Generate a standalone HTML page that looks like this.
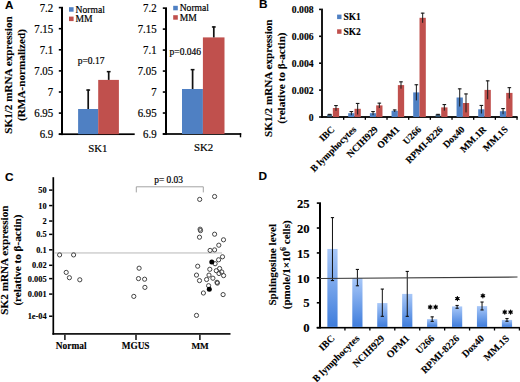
<!DOCTYPE html>
<html><head><meta charset="utf-8"><style>
html,body{margin:0;padding:0;background:#fff;width:520px;height:382px;overflow:hidden;}
svg{display:block;}
</style></head><body>
<svg width="520" height="382" viewBox="0 0 520 382">
<rect width="520" height="382" fill="#fff"/>
<text x="5.10" y="8.50" font-family="Liberation Sans" font-size="11.6" font-weight="bold" text-anchor="start" fill="#000" stroke="#000" stroke-width="0.12">A</text>
<text x="12.00" y="75.00" font-family="Liberation Serif" font-size="11.15" font-weight="bold" text-anchor="middle" fill="#000" stroke="#000" stroke-width="0.12" transform="rotate(-90 12.00 75.00)">SK1/2 mRNA expression</text>
<text x="25.20" y="75.00" font-family="Liberation Serif" font-size="11.2" font-weight="bold" text-anchor="middle" fill="#000" stroke="#000" stroke-width="0.12" transform="rotate(-90 25.20 75.00)">(RMA-normalized)</text>
<rect x="61.00" y="6.80" width="2.00" height="128.30" fill="#000"/>
<rect x="58.80" y="133.40" width="2.20" height="1.60" fill="#000"/>
<rect x="58.80" y="112.30" width="2.20" height="1.60" fill="#000"/>
<rect x="58.80" y="91.20" width="2.20" height="1.60" fill="#000"/>
<rect x="58.80" y="70.10" width="2.20" height="1.60" fill="#000"/>
<rect x="58.80" y="49.00" width="2.20" height="1.60" fill="#000"/>
<rect x="58.80" y="27.90" width="2.20" height="1.60" fill="#000"/>
<rect x="58.80" y="6.80" width="2.20" height="1.60" fill="#000"/>
<rect x="58.80" y="133.35" width="75.90" height="1.70" fill="#000"/>
<text x="53.20" y="138.10" font-family="Liberation Serif" font-size="11.7" text-anchor="end" fill="#000" stroke="#000" stroke-width="0.2" textLength="13.53" lengthAdjust="spacingAndGlyphs">6.9</text>
<text x="53.20" y="117.00" font-family="Liberation Serif" font-size="11.7" text-anchor="end" fill="#000" stroke="#000" stroke-width="0.2" textLength="18.94" lengthAdjust="spacingAndGlyphs">6.95</text>
<text x="53.20" y="95.90" font-family="Liberation Serif" font-size="11.7" text-anchor="end" fill="#000" stroke="#000" stroke-width="0.2" textLength="5.41" lengthAdjust="spacingAndGlyphs">7</text>
<text x="53.20" y="74.80" font-family="Liberation Serif" font-size="11.7" text-anchor="end" fill="#000" stroke="#000" stroke-width="0.2" textLength="18.94" lengthAdjust="spacingAndGlyphs">7.05</text>
<text x="53.20" y="53.70" font-family="Liberation Serif" font-size="11.7" text-anchor="end" fill="#000" stroke="#000" stroke-width="0.2" textLength="13.53" lengthAdjust="spacingAndGlyphs">7.1</text>
<text x="53.20" y="32.60" font-family="Liberation Serif" font-size="11.7" text-anchor="end" fill="#000" stroke="#000" stroke-width="0.2" textLength="18.94" lengthAdjust="spacingAndGlyphs">7.15</text>
<text x="53.20" y="11.50" font-family="Liberation Serif" font-size="11.7" text-anchor="end" fill="#000" stroke="#000" stroke-width="0.2" textLength="13.53" lengthAdjust="spacingAndGlyphs">7.2</text>
<rect x="78.10" y="109.00" width="20.10" height="25.20" fill="#4F80C3"/>
<rect x="87.35" y="89.50" width="1.70" height="19.50" fill="#111"/>
<rect x="86.30" y="89.30" width="3.80" height="1.50" fill="#111"/>
<rect x="98.20" y="79.90" width="20.70" height="54.30" fill="#C0504D"/>
<rect x="107.85" y="71.10" width="1.70" height="8.80" fill="#111"/>
<rect x="106.80" y="70.90" width="3.80" height="1.50" fill="#111"/>
<rect x="69.00" y="7.20" width="4.60" height="4.50" fill="#4F80C3"/>
<text x="75.50" y="12.50" font-family="Liberation Serif" font-size="9.6" text-anchor="start" fill="#000" stroke="#000" stroke-width="0.2">Normal</text>
<rect x="69.00" y="16.60" width="4.60" height="4.50" fill="#C0504D"/>
<text x="75.50" y="21.90" font-family="Liberation Serif" font-size="9.6" text-anchor="start" fill="#000" stroke="#000" stroke-width="0.2">MM</text>
<text x="77.70" y="63.60" font-family="Liberation Serif" font-size="9.5" text-anchor="start" fill="#000" stroke="#000" stroke-width="0.2">p=0.17</text>
<text x="97.80" y="152.30" font-family="Liberation Serif" font-size="10.8" text-anchor="middle" fill="#000" stroke="#000" stroke-width="0.2">SK1</text>
<rect x="165.00" y="7.32" width="2.00" height="127.58" fill="#000"/>
<rect x="162.80" y="133.20" width="2.20" height="1.60" fill="#000"/>
<rect x="162.80" y="112.22" width="2.20" height="1.60" fill="#000"/>
<rect x="162.80" y="91.24" width="2.20" height="1.60" fill="#000"/>
<rect x="162.80" y="70.26" width="2.20" height="1.60" fill="#000"/>
<rect x="162.80" y="49.28" width="2.20" height="1.60" fill="#000"/>
<rect x="162.80" y="28.30" width="2.20" height="1.60" fill="#000"/>
<rect x="162.80" y="7.32" width="2.20" height="1.60" fill="#000"/>
<rect x="162.80" y="133.15" width="78.40" height="1.70" fill="#000"/>
<rect x="239.80" y="133.15" width="1.40" height="4.15" fill="#000"/>
<text x="156.60" y="137.90" font-family="Liberation Serif" font-size="11.7" text-anchor="end" fill="#000" stroke="#000" stroke-width="0.2" textLength="13.53" lengthAdjust="spacingAndGlyphs">6.9</text>
<text x="156.60" y="116.92" font-family="Liberation Serif" font-size="11.7" text-anchor="end" fill="#000" stroke="#000" stroke-width="0.2" textLength="18.94" lengthAdjust="spacingAndGlyphs">6.95</text>
<text x="156.60" y="95.94" font-family="Liberation Serif" font-size="11.7" text-anchor="end" fill="#000" stroke="#000" stroke-width="0.2" textLength="5.41" lengthAdjust="spacingAndGlyphs">7</text>
<text x="156.60" y="74.96" font-family="Liberation Serif" font-size="11.7" text-anchor="end" fill="#000" stroke="#000" stroke-width="0.2" textLength="18.94" lengthAdjust="spacingAndGlyphs">7.05</text>
<text x="156.60" y="53.98" font-family="Liberation Serif" font-size="11.7" text-anchor="end" fill="#000" stroke="#000" stroke-width="0.2" textLength="13.53" lengthAdjust="spacingAndGlyphs">7.1</text>
<text x="156.60" y="33.00" font-family="Liberation Serif" font-size="11.7" text-anchor="end" fill="#000" stroke="#000" stroke-width="0.2" textLength="18.94" lengthAdjust="spacingAndGlyphs">7.15</text>
<text x="156.60" y="12.02" font-family="Liberation Serif" font-size="11.7" text-anchor="end" fill="#000" stroke="#000" stroke-width="0.2" textLength="13.53" lengthAdjust="spacingAndGlyphs">7.2</text>
<rect x="182.00" y="89.00" width="20.90" height="45.00" fill="#4F80C3"/>
<rect x="191.75" y="69.10" width="1.70" height="19.90" fill="#111"/>
<rect x="190.70" y="68.90" width="3.80" height="1.50" fill="#111"/>
<rect x="202.90" y="37.40" width="21.60" height="96.60" fill="#C0504D"/>
<rect x="212.95" y="26.40" width="1.70" height="11.00" fill="#111"/>
<rect x="211.90" y="26.20" width="3.80" height="1.50" fill="#111"/>
<rect x="173.20" y="5.80" width="4.60" height="4.50" fill="#4F80C3"/>
<text x="179.70" y="11.10" font-family="Liberation Serif" font-size="9.6" text-anchor="start" fill="#000" stroke="#000" stroke-width="0.2">Normal</text>
<rect x="173.20" y="15.20" width="4.60" height="4.50" fill="#C0504D"/>
<text x="179.70" y="20.50" font-family="Liberation Serif" font-size="9.6" text-anchor="start" fill="#000" stroke="#000" stroke-width="0.2">MM</text>
<text x="169.60" y="54.80" font-family="Liberation Serif" font-size="9.5" text-anchor="start" fill="#000" stroke="#000" stroke-width="0.2">p=0.046</text>
<text x="203.60" y="151.40" font-family="Liberation Serif" font-size="10.8" text-anchor="middle" fill="#000" stroke="#000" stroke-width="0.2">SK2</text>
<text x="259.10" y="8.00" font-family="Liberation Sans" font-size="11.8" font-weight="bold" text-anchor="start" fill="#000" stroke="#000" stroke-width="0.12">B</text>
<text x="271.80" y="78.20" font-family="Liberation Serif" font-size="11.15" font-weight="bold" text-anchor="middle" fill="#000" stroke="#000" stroke-width="0.12" transform="rotate(-90 271.80 78.20)">SK1/2 mRNA expression</text>
<text x="285.20" y="78.10" font-family="Liberation Serif" font-size="11.2" font-weight="bold" text-anchor="middle" fill="#000" stroke="#000" stroke-width="0.12" transform="rotate(-90 285.20 78.10)">(relative to β-actin)</text>
<rect x="321.10" y="8.60" width="1.80" height="109.30" fill="#000"/>
<rect x="319.10" y="116.20" width="2.00" height="1.60" fill="#000"/>
<text x="313.60" y="120.70" font-family="Liberation Serif" font-size="9.7" font-weight="bold" text-anchor="end" fill="#000" stroke="#000" stroke-width="0.12">0</text>
<rect x="319.10" y="89.30" width="2.00" height="1.60" fill="#000"/>
<text x="313.60" y="93.80" font-family="Liberation Serif" font-size="9.7" font-weight="bold" text-anchor="end" fill="#000" stroke="#000" stroke-width="0.12">0.002</text>
<rect x="319.10" y="62.40" width="2.00" height="1.60" fill="#000"/>
<text x="313.60" y="66.90" font-family="Liberation Serif" font-size="9.7" font-weight="bold" text-anchor="end" fill="#000" stroke="#000" stroke-width="0.12">0.004</text>
<rect x="319.10" y="35.50" width="2.00" height="1.60" fill="#000"/>
<text x="313.60" y="40.00" font-family="Liberation Serif" font-size="9.7" font-weight="bold" text-anchor="end" fill="#000" stroke="#000" stroke-width="0.12">0.006</text>
<rect x="319.10" y="8.60" width="2.00" height="1.60" fill="#000"/>
<text x="313.60" y="13.10" font-family="Liberation Serif" font-size="9.7" font-weight="bold" text-anchor="end" fill="#000" stroke="#000" stroke-width="0.12">0.008</text>
<rect x="321.10" y="116.10" width="196.53" height="1.80" fill="#000"/>
<rect x="343.02" y="117.00" width="1.30" height="2.80" fill="#000"/>
<rect x="364.69" y="117.00" width="1.30" height="2.80" fill="#000"/>
<rect x="386.36" y="117.00" width="1.30" height="2.80" fill="#000"/>
<rect x="408.03" y="117.00" width="1.30" height="2.80" fill="#000"/>
<rect x="429.70" y="117.00" width="1.30" height="2.80" fill="#000"/>
<rect x="451.37" y="117.00" width="1.30" height="2.80" fill="#000"/>
<rect x="473.04" y="117.00" width="1.30" height="2.80" fill="#000"/>
<rect x="494.71" y="117.00" width="1.30" height="2.80" fill="#000"/>
<rect x="516.38" y="117.00" width="1.30" height="2.80" fill="#000"/>
<rect x="327.23" y="114.40" width="4.70" height="2.60" fill="#34556f"/>
<rect x="332.83" y="108.00" width="6.30" height="9.00" fill="#C0504D"/>
<rect x="329.19" y="114.00" width="1.00" height="0.80" fill="#1a1a1a"/>
<rect x="327.88" y="113.80" width="3.60" height="1.10" fill="#1a1a1a"/>
<rect x="335.48" y="105.20" width="1.00" height="5.60" fill="#1a1a1a"/>
<rect x="334.18" y="105.00" width="3.60" height="1.10" fill="#1a1a1a"/>
<rect x="348.20" y="113.20" width="6.30" height="3.80" fill="#4F80C3"/>
<rect x="354.50" y="108.80" width="6.30" height="8.20" fill="#C0504D"/>
<rect x="350.86" y="111.20" width="1.00" height="4.00" fill="#1a1a1a"/>
<rect x="349.56" y="111.00" width="3.60" height="1.10" fill="#1a1a1a"/>
<rect x="357.15" y="103.10" width="1.00" height="11.40" fill="#1a1a1a"/>
<rect x="355.85" y="102.90" width="3.60" height="1.10" fill="#1a1a1a"/>
<rect x="369.88" y="113.20" width="6.30" height="3.80" fill="#4F80C3"/>
<rect x="376.18" y="105.40" width="6.30" height="11.60" fill="#C0504D"/>
<rect x="372.53" y="111.20" width="1.00" height="4.00" fill="#1a1a1a"/>
<rect x="371.23" y="111.00" width="3.60" height="1.10" fill="#1a1a1a"/>
<rect x="378.82" y="102.80" width="1.00" height="5.20" fill="#1a1a1a"/>
<rect x="377.52" y="102.60" width="3.60" height="1.10" fill="#1a1a1a"/>
<rect x="391.55" y="110.80" width="6.30" height="6.20" fill="#4F80C3"/>
<rect x="397.85" y="85.10" width="6.30" height="31.90" fill="#C0504D"/>
<rect x="394.20" y="109.60" width="1.00" height="2.40" fill="#1a1a1a"/>
<rect x="392.90" y="109.40" width="3.60" height="1.10" fill="#1a1a1a"/>
<rect x="400.50" y="81.50" width="1.00" height="7.20" fill="#1a1a1a"/>
<rect x="399.19" y="81.30" width="3.60" height="1.10" fill="#1a1a1a"/>
<rect x="413.21" y="92.40" width="6.30" height="24.60" fill="#4F80C3"/>
<rect x="419.51" y="17.80" width="6.30" height="99.20" fill="#C0504D"/>
<rect x="415.87" y="84.40" width="1.00" height="16.00" fill="#1a1a1a"/>
<rect x="414.56" y="84.20" width="3.60" height="1.10" fill="#1a1a1a"/>
<rect x="422.16" y="12.80" width="1.00" height="10.00" fill="#1a1a1a"/>
<rect x="420.86" y="12.60" width="3.60" height="1.10" fill="#1a1a1a"/>
<rect x="435.58" y="114.40" width="4.70" height="2.60" fill="#34556f"/>
<rect x="441.19" y="107.40" width="6.30" height="9.60" fill="#C0504D"/>
<rect x="437.54" y="114.00" width="1.00" height="0.80" fill="#1a1a1a"/>
<rect x="436.24" y="113.80" width="3.60" height="1.10" fill="#1a1a1a"/>
<rect x="443.83" y="104.20" width="1.00" height="6.40" fill="#1a1a1a"/>
<rect x="442.53" y="104.00" width="3.60" height="1.10" fill="#1a1a1a"/>
<rect x="456.56" y="97.50" width="6.30" height="19.50" fill="#4F80C3"/>
<rect x="462.86" y="103.00" width="6.30" height="14.00" fill="#C0504D"/>
<rect x="459.21" y="88.50" width="1.00" height="18.00" fill="#1a1a1a"/>
<rect x="457.91" y="88.30" width="3.60" height="1.10" fill="#1a1a1a"/>
<rect x="465.50" y="93.60" width="1.00" height="18.80" fill="#1a1a1a"/>
<rect x="464.20" y="93.40" width="3.60" height="1.10" fill="#1a1a1a"/>
<rect x="478.22" y="109.30" width="6.30" height="7.70" fill="#4F80C3"/>
<rect x="484.52" y="89.90" width="6.30" height="27.10" fill="#C0504D"/>
<rect x="480.88" y="105.10" width="1.00" height="8.40" fill="#1a1a1a"/>
<rect x="479.57" y="104.90" width="3.60" height="1.10" fill="#1a1a1a"/>
<rect x="487.17" y="80.50" width="1.00" height="18.80" fill="#1a1a1a"/>
<rect x="485.87" y="80.30" width="3.60" height="1.10" fill="#1a1a1a"/>
<rect x="499.90" y="111.20" width="6.30" height="5.80" fill="#4F80C3"/>
<rect x="506.20" y="92.90" width="6.30" height="24.10" fill="#C0504D"/>
<rect x="502.55" y="108.20" width="1.00" height="6.00" fill="#1a1a1a"/>
<rect x="501.25" y="108.00" width="3.60" height="1.10" fill="#1a1a1a"/>
<rect x="508.85" y="87.30" width="1.00" height="11.20" fill="#1a1a1a"/>
<rect x="507.55" y="87.10" width="3.60" height="1.10" fill="#1a1a1a"/>
<rect x="337.10" y="14.60" width="4.40" height="4.50" fill="#4F80C3"/>
<text x="343.40" y="20.20" font-family="Liberation Serif" font-size="9.5" font-weight="bold" text-anchor="start" fill="#000" stroke="#000" stroke-width="0.12">SK1</text>
<rect x="337.10" y="29.30" width="4.40" height="4.50" fill="#C0504D"/>
<text x="343.40" y="35.40" font-family="Liberation Serif" font-size="9.5" font-weight="bold" text-anchor="start" fill="#000" stroke="#000" stroke-width="0.12">SK2</text>
<text x="335.13" y="130.00" font-family="Liberation Serif" font-size="9.65" font-weight="bold" text-anchor="end" fill="#000" stroke="#000" stroke-width="0.12" transform="rotate(-45 335.13 130.00)">IBC</text>
<text x="356.81" y="130.00" font-family="Liberation Serif" font-size="9.65" font-weight="bold" text-anchor="end" fill="#000" stroke="#000" stroke-width="0.12" transform="rotate(-45 356.81 130.00)">B lymphocytes</text>
<text x="378.48" y="130.00" font-family="Liberation Serif" font-size="9.65" font-weight="bold" text-anchor="end" fill="#000" stroke="#000" stroke-width="0.12" transform="rotate(-45 378.48 130.00)">NCIH929</text>
<text x="400.15" y="130.00" font-family="Liberation Serif" font-size="9.65" font-weight="bold" text-anchor="end" fill="#000" stroke="#000" stroke-width="0.12" transform="rotate(-45 400.15 130.00)">OPM1</text>
<text x="421.81" y="130.00" font-family="Liberation Serif" font-size="9.65" font-weight="bold" text-anchor="end" fill="#000" stroke="#000" stroke-width="0.12" transform="rotate(-45 421.81 130.00)">U266</text>
<text x="443.49" y="130.00" font-family="Liberation Serif" font-size="9.65" font-weight="bold" text-anchor="end" fill="#000" stroke="#000" stroke-width="0.12" transform="rotate(-45 443.49 130.00)">RPMI-8226</text>
<text x="465.16" y="130.00" font-family="Liberation Serif" font-size="9.65" font-weight="bold" text-anchor="end" fill="#000" stroke="#000" stroke-width="0.12" transform="rotate(-45 465.16 130.00)">Dox40</text>
<text x="486.82" y="130.00" font-family="Liberation Serif" font-size="9.65" font-weight="bold" text-anchor="end" fill="#000" stroke="#000" stroke-width="0.12" transform="rotate(-45 486.82 130.00)">MM.1R</text>
<text x="508.50" y="130.00" font-family="Liberation Serif" font-size="9.65" font-weight="bold" text-anchor="end" fill="#000" stroke="#000" stroke-width="0.12" transform="rotate(-45 508.50 130.00)">MM.1S</text>
<text x="5.10" y="180.60" font-family="Liberation Sans" font-size="11.8" font-weight="bold" text-anchor="start" fill="#000" stroke="#000" stroke-width="0.12">C</text>
<text x="7.90" y="260.10" font-family="Liberation Serif" font-size="11.2" font-weight="bold" text-anchor="middle" fill="#000" stroke="#000" stroke-width="0.12" transform="rotate(-90 7.90 260.10)">SK2 mRNA expression</text>
<text x="20.60" y="260.10" font-family="Liberation Serif" font-size="11.15" font-weight="bold" text-anchor="middle" fill="#000" stroke="#000" stroke-width="0.12" transform="rotate(-90 20.60 260.10)">(relative to β-actin)</text>
<rect x="52.45" y="177.20" width="1.70" height="157.50" fill="#000"/>
<rect x="49.10" y="189.35" width="3.35" height="1.50" fill="#000"/>
<text x="46.60" y="193.20" font-family="Liberation Serif" font-size="8.0" font-weight="bold" text-anchor="end" fill="#000" stroke="#000" stroke-width="0.12" textLength="8.32" lengthAdjust="spacingAndGlyphs">50</text>
<rect x="49.10" y="204.82" width="3.35" height="1.50" fill="#000"/>
<text x="46.60" y="208.67" font-family="Liberation Serif" font-size="8.0" font-weight="bold" text-anchor="end" fill="#000" stroke="#000" stroke-width="0.12" textLength="8.32" lengthAdjust="spacingAndGlyphs">10</text>
<rect x="49.10" y="220.29" width="3.35" height="1.50" fill="#000"/>
<text x="46.60" y="224.14" font-family="Liberation Serif" font-size="8.0" font-weight="bold" text-anchor="end" fill="#000" stroke="#000" stroke-width="0.12" textLength="4.16" lengthAdjust="spacingAndGlyphs">2</text>
<rect x="49.10" y="233.61" width="3.35" height="1.50" fill="#000"/>
<text x="46.60" y="237.46" font-family="Liberation Serif" font-size="8.0" font-weight="bold" text-anchor="end" fill="#000" stroke="#000" stroke-width="0.12" textLength="10.40" lengthAdjust="spacingAndGlyphs">0.5</text>
<rect x="49.10" y="249.08" width="3.35" height="1.50" fill="#000"/>
<text x="46.60" y="252.93" font-family="Liberation Serif" font-size="8.0" font-weight="bold" text-anchor="end" fill="#000" stroke="#000" stroke-width="0.12" textLength="10.40" lengthAdjust="spacingAndGlyphs">0.1</text>
<rect x="49.10" y="264.55" width="3.35" height="1.50" fill="#000"/>
<text x="46.60" y="268.40" font-family="Liberation Serif" font-size="8.0" font-weight="bold" text-anchor="end" fill="#000" stroke="#000" stroke-width="0.12" textLength="14.56" lengthAdjust="spacingAndGlyphs">0.02</text>
<rect x="49.10" y="277.87" width="3.35" height="1.50" fill="#000"/>
<text x="46.60" y="281.72" font-family="Liberation Serif" font-size="8.0" font-weight="bold" text-anchor="end" fill="#000" stroke="#000" stroke-width="0.12" textLength="18.72" lengthAdjust="spacingAndGlyphs">0.005</text>
<rect x="49.10" y="293.34" width="3.35" height="1.50" fill="#000"/>
<text x="46.60" y="297.19" font-family="Liberation Serif" font-size="8.0" font-weight="bold" text-anchor="end" fill="#000" stroke="#000" stroke-width="0.12" textLength="18.72" lengthAdjust="spacingAndGlyphs">0.001</text>
<rect x="49.10" y="315.47" width="3.35" height="1.50" fill="#000"/>
<text x="46.60" y="319.32" font-family="Liberation Serif" font-size="8.0" font-weight="bold" text-anchor="end" fill="#000" stroke="#000" stroke-width="0.12" textLength="18.94" lengthAdjust="spacingAndGlyphs">1e-04</text>
<rect x="52.45" y="333.10" width="178.05" height="1.60" fill="#000"/>
<rect x="64.20" y="334.70" width="1.40" height="5.30" fill="#000"/>
<rect x="135.30" y="334.70" width="1.40" height="5.30" fill="#000"/>
<rect x="199.20" y="334.70" width="1.40" height="5.30" fill="#000"/>
<text x="71.20" y="349.40" font-family="Liberation Serif" font-size="9.4" font-weight="bold" text-anchor="middle" fill="#000" stroke="#000" stroke-width="0.12">Normal</text>
<text x="135.60" y="349.30" font-family="Liberation Serif" font-size="9.3" font-weight="bold" text-anchor="middle" fill="#000" stroke="#000" stroke-width="0.12">MGUS</text>
<text x="200.10" y="349.30" font-family="Liberation Serif" font-size="9.2" font-weight="bold" text-anchor="middle" fill="#000" stroke="#000" stroke-width="0.12">MM</text>
<rect x="54.15" y="252.30" width="167.85" height="1.30" fill="#c8c8c8"/>
<path d="M136.3,192.4 V186.8 H203.3 V192.4" fill="none" stroke="#999" stroke-width="0.9"/>
<text x="154.20" y="183.20" font-family="Liberation Serif" font-size="9.4" text-anchor="start" fill="#000" stroke="#000" stroke-width="0.2">p= 0.03</text>
<circle cx="59.6" cy="254.9" r="2.1" fill="none" stroke="#444" stroke-width="1.0"/>
<circle cx="73.6" cy="254.9" r="2.1" fill="none" stroke="#444" stroke-width="1.0"/>
<circle cx="66.2" cy="272.4" r="2.1" fill="none" stroke="#444" stroke-width="1.0"/>
<circle cx="69.4" cy="277.7" r="2.1" fill="none" stroke="#444" stroke-width="1.0"/>
<circle cx="79.8" cy="279.8" r="2.1" fill="none" stroke="#444" stroke-width="1.0"/>
<circle cx="139.1" cy="268.2" r="2.1" fill="none" stroke="#444" stroke-width="1.0"/>
<circle cx="138.5" cy="278.6" r="2.1" fill="none" stroke="#444" stroke-width="1.0"/>
<circle cx="144.6" cy="279.2" r="2.1" fill="none" stroke="#444" stroke-width="1.0"/>
<circle cx="144.9" cy="287.4" r="2.1" fill="none" stroke="#444" stroke-width="1.0"/>
<circle cx="133.8" cy="296.4" r="2.1" fill="none" stroke="#444" stroke-width="1.0"/>
<circle cx="199.7" cy="199.4" r="2.1" fill="none" stroke="#444" stroke-width="1.0"/>
<circle cx="214.6" cy="196.5" r="2.1" fill="none" stroke="#444" stroke-width="1.0"/>
<circle cx="200.1" cy="229.2" r="2.1" fill="none" stroke="#444" stroke-width="1.0"/>
<circle cx="200.5" cy="230.6" r="2.1" fill="none" stroke="#444" stroke-width="1.0"/>
<circle cx="214.6" cy="234.2" r="2.1" fill="none" stroke="#444" stroke-width="1.0"/>
<circle cx="199.5" cy="237.2" r="2.1" fill="none" stroke="#444" stroke-width="1.0"/>
<circle cx="223.5" cy="239.8" r="2.1" fill="none" stroke="#444" stroke-width="1.0"/>
<circle cx="218.8" cy="245.2" r="2.1" fill="none" stroke="#444" stroke-width="1.0"/>
<circle cx="210.1" cy="250.4" r="2.1" fill="none" stroke="#444" stroke-width="1.0"/>
<circle cx="214.6" cy="249.9" r="2.1" fill="none" stroke="#444" stroke-width="1.0"/>
<circle cx="222.5" cy="256.8" r="2.1" fill="none" stroke="#444" stroke-width="1.0"/>
<circle cx="218.6" cy="259.8" r="2.1" fill="none" stroke="#444" stroke-width="1.0"/>
<circle cx="215.1" cy="263.7" r="2.1" fill="none" stroke="#444" stroke-width="1.0"/>
<circle cx="197.7" cy="266.2" r="2.1" fill="none" stroke="#444" stroke-width="1.0"/>
<circle cx="209.8" cy="269.3" r="2.1" fill="none" stroke="#444" stroke-width="1.0"/>
<circle cx="219.6" cy="268.5" r="2.1" fill="none" stroke="#444" stroke-width="1.0"/>
<circle cx="216.3" cy="270.7" r="2.1" fill="none" stroke="#444" stroke-width="1.0"/>
<circle cx="221.8" cy="272" r="2.1" fill="none" stroke="#444" stroke-width="1.0"/>
<circle cx="219" cy="273.5" r="2.1" fill="none" stroke="#444" stroke-width="1.0"/>
<circle cx="223.6" cy="275.6" r="2.1" fill="none" stroke="#444" stroke-width="1.0"/>
<circle cx="196.5" cy="275.1" r="2.1" fill="none" stroke="#444" stroke-width="1.0"/>
<circle cx="209" cy="275.1" r="2.1" fill="none" stroke="#444" stroke-width="1.0"/>
<circle cx="212.9" cy="278.2" r="2.1" fill="none" stroke="#444" stroke-width="1.0"/>
<circle cx="206.6" cy="279.5" r="2.1" fill="none" stroke="#444" stroke-width="1.0"/>
<circle cx="199.5" cy="280.6" r="2.1" fill="none" stroke="#444" stroke-width="1.0"/>
<circle cx="217.0" cy="282.3" r="2.1" fill="none" stroke="#444" stroke-width="1.0"/>
<circle cx="217.4" cy="283.1" r="2.1" fill="none" stroke="#444" stroke-width="1.0"/>
<circle cx="208.6" cy="285.7" r="2.1" fill="none" stroke="#444" stroke-width="1.0"/>
<circle cx="203.4" cy="293" r="2.1" fill="none" stroke="#444" stroke-width="1.0"/>
<circle cx="223.1" cy="294.6" r="2.1" fill="none" stroke="#444" stroke-width="1.0"/>
<circle cx="196.5" cy="315.4" r="2.1" fill="none" stroke="#444" stroke-width="1.0"/>
<circle cx="211.8" cy="262.0" r="2.5" fill="#000"/>
<circle cx="209.3" cy="289.2" r="2.5" fill="#000"/>
<text x="258.60" y="179.60" font-family="Liberation Sans" font-size="11.8" font-weight="bold" text-anchor="start" fill="#000" stroke="#000" stroke-width="0.12">D</text>
<text x="276.20" y="264.70" font-family="Liberation Serif" font-size="11.1" font-weight="bold" text-anchor="middle" fill="#000" stroke="#000" stroke-width="0.12" transform="rotate(-90 276.20 264.70)">Sphingosine level</text>
<text x="290.2" y="264.8" font-family="Liberation Serif" font-size="11" font-weight="bold" text-anchor="middle" stroke="#000" stroke-width="0.12" transform="rotate(-90 290.2 264.8)">(pmole/1×10<tspan font-size="8" dy="-3.8">6</tspan><tspan dy="3.8"> cells)</tspan></text>
<defs><linearGradient id="g" x1="0" y1="0" x2="0" y2="1"><stop offset="0" stop-color="#A9C8F8"/><stop offset="1" stop-color="#3F7DDC"/></linearGradient></defs>
<rect x="319.00" y="202.30" width="2.00" height="126.20" fill="#000"/>
<rect x="316.80" y="326.90" width="2.20" height="1.60" fill="#000"/>
<text x="309.60" y="332.40" font-family="Liberation Serif" font-size="12.7" font-weight="bold" text-anchor="end" fill="#000" stroke="#000" stroke-width="0.12">0</text>
<rect x="316.80" y="301.98" width="2.20" height="1.60" fill="#000"/>
<text x="309.60" y="307.48" font-family="Liberation Serif" font-size="12.7" font-weight="bold" text-anchor="end" fill="#000" stroke="#000" stroke-width="0.12">5</text>
<rect x="316.80" y="277.06" width="2.20" height="1.60" fill="#000"/>
<text x="309.60" y="282.56" font-family="Liberation Serif" font-size="12.7" font-weight="bold" text-anchor="end" fill="#000" stroke="#000" stroke-width="0.12">10</text>
<rect x="316.80" y="252.14" width="2.20" height="1.60" fill="#000"/>
<text x="309.60" y="257.64" font-family="Liberation Serif" font-size="12.7" font-weight="bold" text-anchor="end" fill="#000" stroke="#000" stroke-width="0.12">15</text>
<rect x="316.80" y="227.22" width="2.20" height="1.60" fill="#000"/>
<text x="309.60" y="232.72" font-family="Liberation Serif" font-size="12.7" font-weight="bold" text-anchor="end" fill="#000" stroke="#000" stroke-width="0.12">20</text>
<rect x="316.80" y="202.30" width="2.20" height="1.60" fill="#000"/>
<text x="309.60" y="207.80" font-family="Liberation Serif" font-size="12.7" font-weight="bold" text-anchor="end" fill="#000" stroke="#000" stroke-width="0.12">25</text>
<rect x="316.70" y="326.90" width="203.24" height="1.60" fill="#000"/>
<rect x="344.28" y="327.70" width="1.30" height="2.80" fill="#000"/>
<rect x="369.21" y="327.70" width="1.30" height="2.80" fill="#000"/>
<rect x="394.14" y="327.70" width="1.30" height="2.80" fill="#000"/>
<rect x="419.07" y="327.70" width="1.30" height="2.80" fill="#000"/>
<rect x="444.00" y="327.70" width="1.30" height="2.80" fill="#000"/>
<rect x="468.93" y="327.70" width="1.30" height="2.80" fill="#000"/>
<rect x="493.86" y="327.70" width="1.30" height="2.80" fill="#000"/>
<rect x="518.79" y="327.70" width="1.30" height="2.80" fill="#000"/>
<rect x="327.36" y="248.95" width="10.20" height="77.95" fill="url(#g)"/>
<rect x="352.29" y="278.01" width="10.20" height="48.89" fill="url(#g)"/>
<rect x="377.22" y="303.08" width="10.20" height="23.82" fill="url(#g)"/>
<rect x="402.15" y="293.91" width="10.20" height="32.99" fill="url(#g)"/>
<rect x="427.08" y="319.13" width="10.20" height="7.77" fill="url(#g)"/>
<rect x="452.01" y="306.42" width="10.20" height="20.48" fill="url(#g)"/>
<rect x="476.94" y="306.12" width="10.20" height="20.78" fill="url(#g)"/>
<rect x="501.88" y="319.92" width="10.20" height="6.98" fill="url(#g)"/>
<rect x="331.96" y="217.55" width="1.00" height="63.05" fill="#111"/>
<rect x="330.86" y="217.05" width="3.20" height="1.10" fill="#111"/>
<rect x="330.86" y="280.00" width="3.20" height="1.10" fill="#111"/>
<rect x="356.89" y="269.39" width="1.00" height="16.45" fill="#111"/>
<rect x="355.79" y="268.89" width="3.20" height="1.10" fill="#111"/>
<rect x="355.79" y="285.23" width="3.20" height="1.10" fill="#111"/>
<rect x="381.82" y="289.02" width="1.00" height="27.36" fill="#111"/>
<rect x="380.72" y="288.52" width="3.20" height="1.10" fill="#111"/>
<rect x="380.72" y="315.79" width="3.20" height="1.10" fill="#111"/>
<rect x="406.75" y="271.38" width="1.00" height="45.01" fill="#111"/>
<rect x="405.65" y="270.88" width="3.20" height="1.10" fill="#111"/>
<rect x="405.65" y="315.79" width="3.20" height="1.10" fill="#111"/>
<rect x="431.69" y="316.79" width="1.00" height="4.64" fill="#111"/>
<rect x="430.58" y="316.29" width="3.20" height="1.10" fill="#111"/>
<rect x="430.58" y="320.82" width="3.20" height="1.10" fill="#111"/>
<rect x="456.62" y="305.42" width="1.00" height="2.89" fill="#111"/>
<rect x="455.51" y="304.92" width="3.20" height="1.10" fill="#111"/>
<rect x="455.51" y="307.71" width="3.20" height="1.10" fill="#111"/>
<rect x="481.54" y="301.98" width="1.00" height="8.02" fill="#111"/>
<rect x="480.44" y="301.48" width="3.20" height="1.10" fill="#111"/>
<rect x="480.44" y="309.41" width="3.20" height="1.10" fill="#111"/>
<rect x="506.48" y="318.48" width="1.00" height="2.84" fill="#111"/>
<rect x="505.38" y="317.98" width="3.20" height="1.10" fill="#111"/>
<rect x="505.38" y="320.72" width="3.20" height="1.10" fill="#111"/>
<line x1="320.00" y1="278.50" x2="517.50" y2="277.00" stroke="#3c3c3c" stroke-width="1.2"/>
<path d="M430.20,305.10L430.20,309.10M428.47,306.10L431.93,308.10M431.93,306.10L428.47,308.10" stroke="#000" stroke-width="1.2" stroke-linecap="round"/>
<circle cx="430.2" cy="307.1" r="1.4" fill="#000"/>
<path d="M435.70,305.10L435.70,309.10M433.97,306.10L437.43,308.10M437.43,306.10L433.97,308.10" stroke="#000" stroke-width="1.2" stroke-linecap="round"/>
<circle cx="435.7" cy="307.1" r="1.4" fill="#000"/>
<path d="M457.40,296.60L457.40,300.60M455.67,297.60L459.13,299.60M459.13,297.60L455.67,299.60" stroke="#000" stroke-width="1.2" stroke-linecap="round"/>
<circle cx="457.4" cy="298.6" r="1.4" fill="#000"/>
<path d="M482.90,293.80L482.90,297.80M481.17,294.80L484.63,296.80M484.63,294.80L481.17,296.80" stroke="#000" stroke-width="1.2" stroke-linecap="round"/>
<circle cx="482.9" cy="295.8" r="1.4" fill="#000"/>
<path d="M504.80,310.10L504.80,314.10M503.07,311.10L506.53,313.10M506.53,311.10L503.07,313.10" stroke="#000" stroke-width="1.2" stroke-linecap="round"/>
<circle cx="504.8" cy="312.1" r="1.4" fill="#000"/>
<path d="M510.60,310.10L510.60,314.10M508.87,311.10L512.33,313.10M512.33,311.10L508.87,313.10" stroke="#000" stroke-width="1.2" stroke-linecap="round"/>
<circle cx="510.6" cy="312.1" r="1.4" fill="#000"/>
<text x="335.26" y="339.00" font-family="Liberation Serif" font-size="9.9" font-weight="bold" text-anchor="end" fill="#000" stroke="#000" stroke-width="0.12" transform="rotate(-45 335.26 339.00)">IBC</text>
<text x="360.19" y="339.00" font-family="Liberation Serif" font-size="9.9" font-weight="bold" text-anchor="end" fill="#000" stroke="#000" stroke-width="0.12" transform="rotate(-45 360.19 339.00)">B lymphocytes</text>
<text x="385.12" y="339.00" font-family="Liberation Serif" font-size="9.9" font-weight="bold" text-anchor="end" fill="#000" stroke="#000" stroke-width="0.12" transform="rotate(-45 385.12 339.00)">NCIH929</text>
<text x="410.06" y="339.00" font-family="Liberation Serif" font-size="9.9" font-weight="bold" text-anchor="end" fill="#000" stroke="#000" stroke-width="0.12" transform="rotate(-45 410.06 339.00)">OPM1</text>
<text x="434.99" y="339.00" font-family="Liberation Serif" font-size="9.9" font-weight="bold" text-anchor="end" fill="#000" stroke="#000" stroke-width="0.12" transform="rotate(-45 434.99 339.00)">U266</text>
<text x="459.92" y="339.00" font-family="Liberation Serif" font-size="9.9" font-weight="bold" text-anchor="end" fill="#000" stroke="#000" stroke-width="0.12" transform="rotate(-45 459.92 339.00)">RPMI-8226</text>
<text x="484.84" y="339.00" font-family="Liberation Serif" font-size="9.9" font-weight="bold" text-anchor="end" fill="#000" stroke="#000" stroke-width="0.12" transform="rotate(-45 484.84 339.00)">Dox40</text>
<text x="509.78" y="339.00" font-family="Liberation Serif" font-size="9.9" font-weight="bold" text-anchor="end" fill="#000" stroke="#000" stroke-width="0.12" transform="rotate(-45 509.78 339.00)">MM.1S</text>
</svg>
</body></html>
